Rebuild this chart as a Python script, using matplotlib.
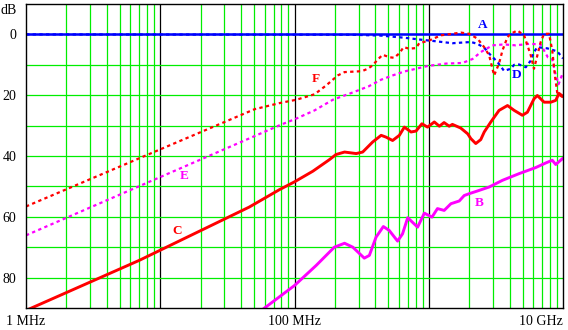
"""
Insertion loss curves A-F, 1 MHz .. 10 GHz
"""

import matplotlib
matplotlib.use("Agg")
import matplotlib.pyplot as plt

# frequencies in MHz, attenuation in dB
a_f = [1, 10000]
a_db = [0, 0]

b_f = [57.8, 100, 145, 198, 236, 272, 331, 361, 405, 459, 508, 586, 638, 697, 826,
       927, 1057, 1161, 1303, 1462, 1687, 1837, 2000, 2307, 2818, 3540, 4710, 6266,
       7430, 8318, 8830, 9886]
b_db = [90.5, 82.6, 76.0, 70.0, 68.7, 70.0, 73.6, 72.7, 66.7, 63.2, 64.5, 68.0, 65.6,
        60.3, 63.4, 58.8, 60.1, 57.3, 57.9, 55.7, 54.8, 53.0, 52.4, 51.5, 50.2, 48.0,
        45.8, 43.8, 42.3, 41.4, 42.8, 40.9]

c_f = [1, 7, 46, 77, 100, 137, 182, 204, 236, 288, 322, 382, 442, 481, 538, 604, 658,
       738, 804, 889, 980, 1100, 1200, 1300, 1420, 1500, 1730, 1950, 2060, 2240, 2440,
       2590, 2900, 3340, 3860, 4330, 4980, 5430, 6080, 6440, 7230, 8110, 8830, 9330, 10000]
c_db = [90.8, 74.3, 56.8, 51.1, 48.5, 45.0, 41.2, 39.5, 38.7, 39.2, 38.7, 35.4, 33.2,
        33.8, 34.9, 33.2, 30.5, 32.1, 31.8, 29.4, 30.5, 28.8, 30.2, 29.0, 30.2, 29.6,
        30.8, 32.7, 34.3, 35.9, 34.6, 32.1, 28.8, 25.0, 23.4, 25.0, 26.6, 25.6, 21.2,
        20.1, 22.3, 22.3, 21.7, 19.4, 20.4]

d_f = [1, 264, 442, 658, 900, 1099, 1503, 2061, 2307, 2588, 2818, 3251, 3639, 4083,
       4325, 4710, 5284, 5754, 6081, 6442, 7656, 9078, 10000]
d_db = [0, 0.1, 0.4, 1.1, 1.8, 2.2, 2.9, 2.5, 3.1, 4.4, 6.3, 9.1, 12.0, 11.3, 10.0,
        9.9, 10.8, 8.6, 5.8, 4.2, 4.6, 5.6, 7.9]

e_f = [1, 77.3, 103, 141, 193, 264, 356, 442, 538, 658, 804, 980, 1343, 1782, 2118,
       2443, 2979, 3639, 4446, 5585, 6823, 7228, 7727, 8318, 8730, 9268, 10000]
e_db = [66.1, 29.9, 27.7, 25.0, 21.5, 19.3, 17.1, 14.9, 13.5, 12.2, 11.3, 10.4, 9.6,
        9.4, 8.1, 5.8, 3.6, 3.3, 3.6, 3.1, 3.3, 5.3, 7.6, 8.2, 12.5, 16.4, 12.5]

f_f = [1, 50.5, 77.3, 103, 141, 172, 193, 210, 236, 318, 351, 382, 416, 454, 508, 553,
       604, 650, 716, 804, 849, 1009, 1233, 1503, 1734, 2000, 2307, 2588, 2818, 3069,
       3342, 3540, 3855, 4083, 4571, 5129, 5433, 5754, 6081, 6442, 6823, 7228, 7870,
       8318, 8730, 9078, 10000]
f_db = [56.6, 24.6, 22.6, 21.5, 19.7, 16.8, 14.9, 13.5, 12.4, 12.1, 11.3, 10.2, 8.3,
        6.7, 7.5, 7.7, 6.2, 4.2, 4.7, 4.5, 2.9, 2.0, 0.3, -0.2, -0.6, -0.2, 1.4, 4.2,
        6.9, 13.5, 9.5, 5.3, 0.9, -0.2, -1.3, 0.3, 3.6, 6.9, 11.3, 6.9, 2.5, -0.2, -0.2,
        5.3, 14.0, 19.5, 20.7]

# curve letters: (text, freq MHz, dB, colour)
letters = [("A", 2512, -3.0, "#0000ff"), ("B", 2373, 55.6, "#ff00ff"),
           ("C", 13.3, 64.8, "#ff0000"), ("D", 4527, 13.5, "#0000ff"),
           ("E", 15.2, 46.7, "#ff00ff"), ("F", 145, 14.6, "#ff0000")]

y_ticks = [-10, 0, 20, 40, 60, 80]
y_labels = ["dB", "0", "20", "40", "60", "80"]
x_ticks = [1, 100, 10000]
x_labels = ["1 MHz", "100 MHz", "10 GHz"]

serif = "Liberation Serif"
red, blue, mag = "#ff0000", "#0000ff", "#ff00ff"
green = "#00ee00"

fig = plt.figure(figsize=(5.68, 3.30), dpi=100)
ax = fig.add_axes([26 / 568, 22 / 330, 537 / 568, 304 / 330])
ax.set_xscale("log")
ax.set_xlim(1, 10000)
ax.set_ylim(90, -10)

# grid: green for 2..9 of each decade and every 10 dB, black at decades
for dec in [1, 10, 100, 1000]:
    for m in range(2, 10):
        ax.axvline(dec * m, color=green, lw=0.9, zorder=1)
    if dec > 1:
        ax.axvline(dec, color="black", lw=0.9, zorder=1)
for v in range(0, 90, 10):
    ax.axhline(v, color=green, lw=0.9, zorder=1)

dots = (0, (1.5, 1.5))
ax.plot(a_f, a_db, color=blue, lw=1.8, zorder=2)
ax.plot(b_f, b_db, color=mag, lw=2.1, zorder=3)
ax.plot(c_f, c_db, color=red, lw=2.1, zorder=3)
ax.plot(d_f, d_db, color=blue, lw=1.6, ls=dots, zorder=4)
ax.plot(e_f, e_db, color=mag, lw=1.6, ls=dots, zorder=4)
ax.plot(f_f, f_db, color=red, lw=1.6, ls=dots, zorder=5)

for txt, fx, fy, col in letters:
    ax.text(fx, fy, txt, color=col, family=serif, fontweight="bold", fontsize=9.5,
            ha="center", va="center", zorder=6)

ax.set_xticks(x_ticks)
ax.set_xticklabels(x_labels, family=serif, fontsize=10)
ax.xaxis.set_minor_locator(matplotlib.ticker.NullLocator())
ax.set_yticks(y_ticks)
ax.set_yticklabels(y_labels, family=serif, fontsize=10)
ax.tick_params(length=0)
ax.tick_params(axis="x", pad=5)
ax.tick_params(axis="y", pad=7)
ax.get_xticklabels()[2].set_ha("right")
ax.get_yticklabels()[0].set_va("top")

for s in ax.spines.values():
    s.set_color("black")
    s.set_linewidth(1.0)
    s.set_zorder(7)

fig.savefig("out.png", dpi=100)
